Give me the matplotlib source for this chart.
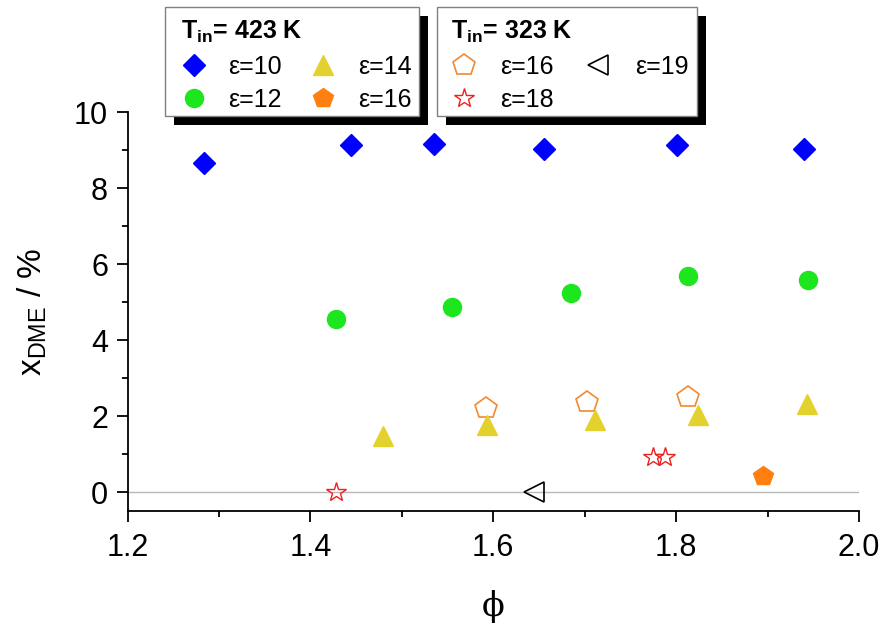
import matplotlib
matplotlib.use("Agg")
import matplotlib.pyplot as plt
from matplotlib.patches import Rectangle

plt.rcParams['font.family'] = ['Liberation Sans', 'DejaVu Sans']

# ---- data ----
# T_in = 423 K
phi_e10 = [1.284, 1.444, 1.535, 1.655, 1.801, 1.940]
x_e10 = [8.66, 9.13, 9.16, 9.03, 9.13, 9.03]
phi_e12 = [1.428, 1.555, 1.685, 1.813, 1.944]
x_e12 = [4.55, 4.87, 5.24, 5.68, 5.58]
phi_e14 = [1.479, 1.593, 1.711, 1.824, 1.943]
x_e14 = [1.47, 1.76, 1.89, 2.03, 2.32]
phi_e16h = [1.895]
x_e16h = [0.42]
# T_in = 323 K
phi_e16c = [1.592, 1.702, 1.813]
x_e16c = [2.21, 2.37, 2.50]
phi_e18 = [1.428, 1.775, 1.788]
x_e18 = [0.0, 0.92, 0.92]
phi_e19 = [1.645]
x_e19 = [0.0]

xticks = [1.2, 1.4, 1.6, 1.8, 2.0]
yticks = [0, 2, 4, 6, 8, 10]

W, H = 883, 626
fig = plt.figure(figsize=(W / 100, H / 100), dpi=100)
ax = fig.add_axes([127.5 / W, 1 - 511 / H, (859 - 127.5) / W, (511 - 112) / H])

ax.axhline(0, color='#b8b8b8', lw=1.0, zorder=1)

blue = '#0000ff'
green = '#1ee61e'
yellow = '#e3d22d'
orange = '#ff8010'
orange_open = '#f08a30'
red = '#ee2020'

h10, = ax.plot(phi_e10, x_e10, ls='none', marker='D', ms=11, color=blue, mec=blue, zorder=3)
h12, = ax.plot(phi_e12, x_e12, ls='none', marker='o', ms=13, color=green, mec=green, zorder=3)
h14, = ax.plot(phi_e14, x_e14, ls='none', marker='^', ms=15, color=yellow, mec=yellow, zorder=3)
h16h, = ax.plot(phi_e16h, x_e16h, ls='none', marker='p', ms=15, color=orange, mec=orange, zorder=3)
h16c, = ax.plot(phi_e16c, x_e16c, ls='none', marker='p', ms=16, mfc='none', mec=orange_open, mew=1.2, zorder=2)
h18, = ax.plot(phi_e18, x_e18, ls='none', marker='*', ms=15, mfc='none', mec=red, mew=1.0, zorder=3)
h19, = ax.plot(phi_e19, x_e19, ls='none', marker='<', ms=15, mfc='none', mec='black', mew=1.2, zorder=3)

ax.set_xlim(1.2, 2.0)
ax.set_ylim(-0.5, 10)
ax.set_xticks(xticks)
ax.set_xticklabels(['%.1f' % v for v in xticks])
ax.set_yticks(yticks)
ax.set_xticks([1.3, 1.5, 1.7, 1.9], minor=True)
ax.set_yticks([1, 3, 5, 7, 9], minor=True)
ax.tick_params(which='major', direction='out', length=8, width=1.3, labelsize=22, pad=6)
ax.tick_params(which='minor', direction='out', length=4, width=1.3)
ax.tick_params(axis='x', which='major', pad=8)
for s in ['top', 'right']:
    ax.spines[s].set_visible(False)
for s in ['left', 'bottom']:
    ax.spines[s].set_linewidth(1.3)

ax.set_xlabel('ϕ', fontsize=24, labelpad=19, family=['DejaVu Serif'])
ax.set_ylabel(r'x$_\mathregular{DME}$ / %', fontsize=24, labelpad=18)

# ---- legend frames with solid black shadows ----
def frame(x0, x1, y0, y1):
    off = 9
    fig.add_artist(Rectangle(((x0 + off) / W, 1 - (y1 + off) / H), (x1 - x0) / W, (y1 - y0) / H,
                             transform=fig.transFigure, facecolor='black', edgecolor='none', zorder=4))
    fig.add_artist(Rectangle((x0 / W, 1 - y1 / H), (x1 - x0) / W, (y1 - y0) / H,
                             transform=fig.transFigure, facecolor='white', edgecolor='#808080',
                             lw=1.0, zorder=4.5))

frame(165, 419, 7, 116)
frame(437, 697, 7, 116)

legkw = dict(frameon=False, fontsize=18, ncol=2, handlelength=1.0,
             labelspacing=0.38, borderpad=0, borderaxespad=0,
             loc='upper left', alignment='left', numpoints=1,
             title_fontproperties={'size': 18, 'weight': 'bold'})

leg1 = fig.legend([h10, h12, h14, h16h], ['ε=10', 'ε=12', 'ε=14', 'ε=16'],
                  title=r'T$_\mathregular{in}$= 423 K', bbox_to_anchor=(181 / W, 1 - 19 / H),
                  handletextpad=0.9, columnspacing=1.15, **legkw)
leg2 = fig.legend([h16c, h18, h19], ['ε=16', 'ε=18', 'ε=19'],
                  title=r'T$_\mathregular{in}$= 323 K', bbox_to_anchor=(451 / W, 1 - 19 / H),
                  handletextpad=0.95, columnspacing=1.3, **legkw)
for lg in (leg1, leg2):
    lg.set_zorder(6)

fig.savefig('out.png', dpi=100)
